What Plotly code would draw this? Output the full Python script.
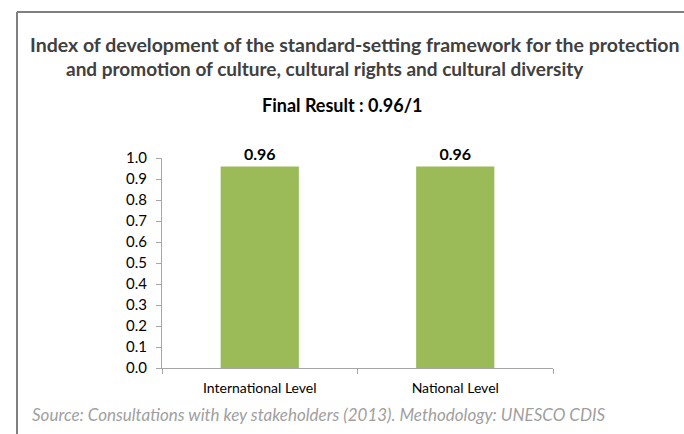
import plotly.graph_objects as go

categories = ["International Level", "National Level"]
values = [0.96, 0.96]
value_labels = ["0.96", "0.96"]
y_ticks = [0.0, 0.1, 0.2, 0.3, 0.4, 0.5, 0.6, 0.7, 0.8, 0.9, 1.0]
title_line1 = "Index of development of the standard-setting framework for the protection"
title_line2 = "and promotion of culture, cultural rights and cultural diversity"
subtitle = "Final Result : 0.96/1"
source = "Source: Consultations with key stakeholders (2013). Methodology: UNESCO CDIS"

W, H = 684, 434
L, R, T, B = 162, 131, 158, 66
dw, dh = W - L - R, H - T - B

def px(x):
    return (x - L) / dw

def py(y):
    return (H - B - y) / dh

FONT = "Lato"

fig = go.Figure(go.Bar(
    x=categories, y=values, text=value_labels, textposition="outside",
    marker=dict(color="#9BBB59", line=dict(width=0)),
    textfont=dict(family=FONT, size=16, color="#000000", weight="bold"),
    cliponaxis=False, width=0.4,
))

fig.update_layout(
    width=W, height=H, autosize=False,
    margin=dict(l=L, r=R, t=T, b=B, pad=0),
    paper_bgcolor="white", plot_bgcolor="white",
    showlegend=False,
    font=dict(family=FONT, size=14, color="#000000"),
    xaxis=dict(range=[-0.5, 1.5], showgrid=False, zeroline=False,
               showline=True, linecolor="#A6A6A6", linewidth=1,
               ticks="outside", tickson="boundaries", ticklen=5, tickcolor="#A6A6A6",
               ticklabelstandoff=7,
               tickfont=dict(family=FONT, size=14, color="#000000")),
    yaxis=dict(range=[0, 1.0], tickvals=y_ticks, ticktext=[f"{v:.1f}" for v in y_ticks],
               showgrid=False, zeroline=False, showline=True, linecolor="#A6A6A6", linewidth=1,
               ticks="outside", ticklen=5, tickcolor="#A6A6A6",
               ticklabelstandoff=6,
               tickfont=dict(family=FONT, size=15, color="#000000")),
    shapes=[
        dict(type="line", xref="paper", yref="paper", x0=px(17), x1=px(700), y0=py(12), y1=py(12),
             line=dict(color="#808080", width=2)),
        dict(type="line", xref="paper", yref="paper", x0=px(17), x1=px(17), y0=py(12), y1=py(440),
             line=dict(color="#808080", width=2)),
    ],
    annotations=[
        dict(text=title_line1, xref="paper", yref="paper", x=px(28), y=py(45), xanchor="left", yanchor="middle",
             showarrow=False, font=dict(family=FONT, size=19.5, color="#404040", weight="bold")),
        dict(text=title_line2, xref="paper", yref="paper", x=px(325), y=py(68), xanchor="center", yanchor="middle",
             showarrow=False, font=dict(family=FONT, size=19, color="#404040", weight="bold")),
        dict(text=subtitle, xref="paper", yref="paper", x=px(342), y=py(105), xanchor="center", yanchor="middle",
             showarrow=False, font=dict(family=FONT, size=18, color="#000000", weight="bold")),
        dict(text=source, xref="paper", yref="paper", x=px(30), y=py(414), xanchor="left", yanchor="middle",
             showarrow=False, font=dict(family=FONT, size=17, color="#A0A0A0", style="italic")),
    ],
)

fig.write_html("out.html", config={"displayModeBar": False},
               post_script="document.body.style.margin='0';document.body.style.overflow='hidden';")
